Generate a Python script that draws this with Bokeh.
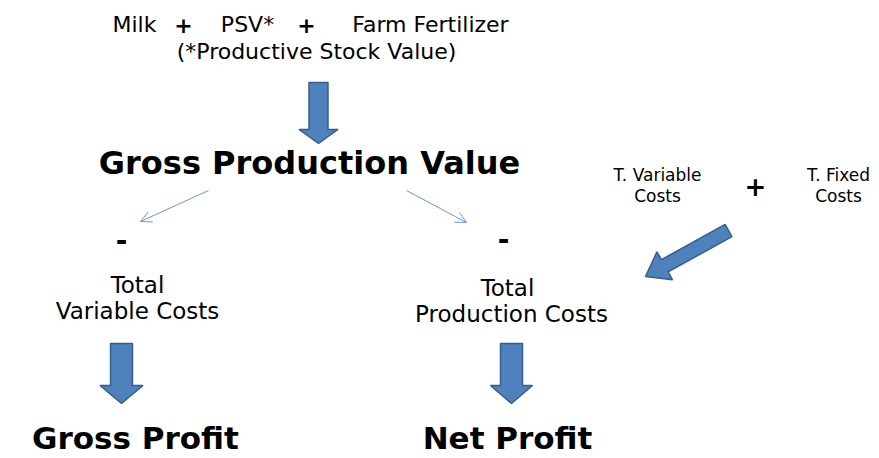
from bokeh.plotting import figure
from bokeh.models import Range1d, ColumnDataSource, Arrow, OpenHead
from bokeh.core.properties import value
from bokeh.embed import file_html
from bokeh.resources import INLINE
import numpy as np

# ---- content ----
top_labels = ["Milk", "PSV*", "Farm Fertilizer", "(*Productive Stock Value)"]
mid_labels = ["Total", "Variable Costs", "Total", "Production Costs"]
side_labels = ["T. Variable", "Costs", "T. Fixed", "Costs"]
head_labels = ["Gross Production Value"]
result_labels = ["Gross Profit", "Net Profit"]
plus_labels = ["+", "+"]
side_plus_labels = ["+"]
minus_labels = ["-", "-"]

# ---- layout (image pixel coordinates) ----
top_x = [134, 247, 430, 316]
top_y = [24, 24, 24, 51]
mid_x = [137, 137, 507, 511]
mid_y = [284, 310, 287, 313]
side_x = [657, 657, 838, 838]
side_y = [174, 195, 174, 195]
head_x = [309]
head_y = [162]
result_x = [135, 507]
result_y = [437, 437]
plus_x = [183, 306]
plus_y = [24, 24]
side_plus_x = [755]
side_plus_y = [185]
minus_x = [121, 503]
minus_y = [239, 238]

# block arrows: tail centre -> tip, shaft width, head width, head length
block_arrows = [
    ((318, 82), (318, 143), 19, 39, 14),
    ((728, 230), (645, 276), 14, 32, 22),
    ((121, 343), (121, 403), 22, 43, 18),
    ((511, 343), (511, 403), 22, 42, 18),
]
# thin arrows: start -> end
thin_arrows = [((208, 190), (140, 221)), ((406, 190), (466, 222))]

W, H = 871, 456
p = figure(width=W, height=H, x_range=Range1d(0, W), y_range=Range1d(H, 0),
           output_backend="svg", toolbar_location=None, min_border=0,
           x_axis_location=None, y_axis_location=None)
p.grid.visible = False
p.outline_line_color = None
p.background_fill_color = "white"
p.border_fill_color = "white"

FONT = value("DejaVu Sans")

def add_text(xs, ys, labels, size, bold=False):
    src = ColumnDataSource(dict(x=xs, y=ys, t=labels))
    p.text("x", "y", text="t", source=src, text_font=FONT, text_font_size=size,
           text_font_style="bold" if bold else "normal", text_align="center",
           text_baseline="middle", text_color="black")

add_text(top_x, top_y, top_labels, "22px")
add_text(mid_x, mid_y, mid_labels, "23px")
add_text(side_x, side_y, side_labels, "17px")
add_text(head_x, head_y, head_labels, "32px", bold=True)
add_text(result_x, result_y, result_labels, "31px", bold=True)
add_text(plus_x, plus_y, plus_labels, "22px", bold=True)
add_text(side_plus_x, side_plus_y, side_plus_labels, "26px", bold=True)
add_text(minus_x, minus_y, minus_labels, "28px", bold=True)

def block_arrow(tail, tip, sw, hw, hl):
    t = np.array(tail, float); e = np.array(tip, float)
    d = e - t; L = np.hypot(*d); u = d / L; n = np.array([-u[1], u[0]])
    b = e - u * hl
    pts = [t + n * sw / 2, b + n * sw / 2, b + n * hw / 2, e,
           b - n * hw / 2, b - n * sw / 2, t - n * sw / 2]
    return [q[0] for q in pts], [q[1] for q in pts]

xs, ys = [], []
for tail, tip, sw, hw, hl in block_arrows:
    a, b = block_arrow(tail, tip, sw, hw, hl)
    xs.append(a); ys.append(b)
p.patches(xs, ys, fill_color="#4f81bd", line_color="#385d8a", line_width=1.5)

for (x0, y0), (x1, y1) in thin_arrows:
    p.add_layout(Arrow(end=OpenHead(size=11, line_color="#6a98d0", line_width=1),
                       x_start=x0, y_start=y0, x_end=x1, y_end=y1,
                       line_color="#6a98d0", line_width=1))

open("out.html", "w").write(file_html(p, INLINE))
